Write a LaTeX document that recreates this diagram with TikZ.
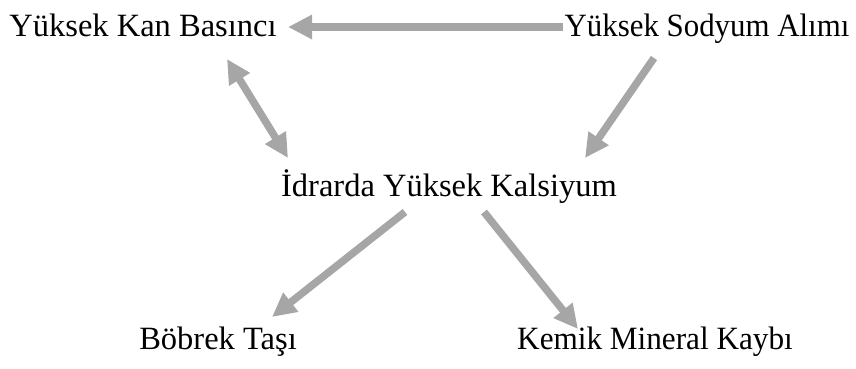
\documentclass[tikz,border=0pt]{standalone}
\usepackage{fontspec}
\setmainfont{Liberation Serif}
\usetikzlibrary{arrows.meta}
\definecolor{arrgray}{HTML}{A6A6A6}
\tikzset{
  lbl/.style={inner sep=0pt, font=\fontsize{32.5}{38}\selectfont, anchor=base},
  conn/.style={draw=arrgray, line width=7.5pt, -{Triangle[length=24pt,width=23pt]}},
  conn2/.style={draw=arrgray, line width=7.5pt, {Triangle[length=24pt,width=23pt]}-{Triangle[length=24pt,width=23pt]}}
}
\begin{document}
\begin{tikzpicture}[x=1pt,y=1pt]
\useasboundingbox (0,0) rectangle (856,-368);
\node[lbl] (kan) at (143,-36) {Yüksek Kan Basıncı};
\node[lbl] (sod) at (707,-36) {\scalebox{0.95}[1]{Yüksek Sodyum Alımı}};
\node[lbl] (idr) at (449,-196) {İdrarda Yüksek Kalsiyum};
\node[lbl] (bob) at (218,-349) {Böbrek Taşı};
\node[lbl] (kem) at (655,-349) {\scalebox{0.96}[1]{Kemik Mineral Kaybı}};
% connector end points
\coordinate (h1) at (563,-27);
\coordinate (h2) at (288,-27);
\coordinate (d1) at (227,-59);
\coordinate (d2) at (288,-158);
\coordinate (s1) at (654,-58);
\coordinate (s2) at (585,-158);
\coordinate (l1) at (405,-212);
\coordinate (l2) at (272,-317);
\coordinate (r1) at (484,-212);
\coordinate (r2) at (578,-329);
\draw[conn] (h1) -- (h2);
\draw[conn2] (d1) -- (d2);
\draw[conn] (s1) -- (s2);
\draw[conn] (l1) -- (l2);
\draw[conn] (r1) -- (r2);
\end{tikzpicture}
\end{document}
